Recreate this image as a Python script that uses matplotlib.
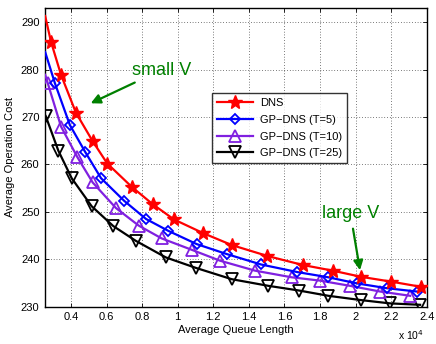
import matplotlib
matplotlib.use("Agg")
import matplotlib.pyplot as plt

plt.rcParams['font.family'] = ['Liberation Sans', 'DejaVu Sans']

# Average queue length (x 1e4) and average operation cost
dns_x = [0.255, 0.2875, 0.344, 0.428, 0.522, 0.604, 0.741, 0.86, 0.979, 1.144,
         1.304, 1.504, 1.703, 1.872, 2.031, 2.198, 2.367]
dns_y = [291.3, 285.9, 278.9, 270.9, 264.9, 260.2, 255.3, 251.6, 248.4, 245.5,
         243.0, 240.7, 238.8, 237.6, 236.3, 235.3, 234.2]

t5_x = [0.255, 0.31, 0.394, 0.479, 0.569, 0.70, 0.822, 0.947, 1.107, 1.276,
        1.469, 1.673, 1.847, 2.01, 2.176, 2.344]
t5_y = [283.7, 277.1, 268.3, 262.7, 257.1, 252.3, 248.5, 246.0, 243.2, 241.1,
        238.9, 237.3, 236.2, 234.9, 233.9, 233.2]

t10_x = [0.255, 0.269, 0.344, 0.435, 0.522, 0.653, 0.781, 0.91, 1.079, 1.238,
         1.435, 1.641, 1.80, 1.969, 2.138, 2.307]
t10_y = [278.9, 277.2, 268.0, 261.6, 256.2, 250.8, 247.1, 244.4, 242.0, 239.7,
         237.6, 236.2, 235.5, 234.4, 233.2, 232.3]

t25_x = [0.258, 0.329, 0.404, 0.516, 0.638, 0.764, 0.933, 1.101, 1.304, 1.51,
         1.684, 1.847, 2.029, 2.194, 2.363]
t25_y = [270.2, 262.9, 257.1, 251.2, 247.0, 243.9, 240.4, 238.2, 235.8, 234.4,
         233.4, 232.3, 231.4, 230.7, 230.4]

labels = ['DNS', 'GP\u2212DNS (T=5)', 'GP\u2212DNS (T=10)', 'GP\u2212DNS (T=25)']
xticks = [0.4, 0.6, 0.8, 1.0, 1.2, 1.4, 1.6, 1.8, 2.0, 2.2, 2.4]
xticklabels = ['0.4', '0.6', '0.8', '1', '1.2', '1.4', '1.6', '1.8', '2', '2.2', '2.4']
yticks = [230, 240, 250, 260, 270, 280, 290]

fig = plt.figure(figsize=(4.36, 3.44), dpi=100)
ax = fig.add_axes([45/436, 1-306.7/344, 381.7/436, 299.2/344])

purple = '#8020e0'
ax.plot(dns_x, dns_y, color='red', lw=1.6, marker='*', ms=10, mfc='red', mec='red',
        markevery=slice(1, None), label=labels[0], zorder=5)
ax.plot(t5_x, t5_y, color='blue', lw=1.6, marker='D', ms=5.5, mfc='none', mec='blue',
        mew=1.3, markevery=slice(1, None), label=labels[1], zorder=4)
ax.plot(t10_x, t10_y, color=purple, lw=1.6, marker='^', ms=8, mfc='none', mec=purple,
        mew=1.3, markevery=slice(1, None), label=labels[2], zorder=3)
ax.plot(t25_x, t25_y, color='black', lw=1.6, marker='v', ms=8, mfc='none', mec='black',
        mew=1.3, label=labels[3], zorder=2)

ax.set_xlim(0.254, 2.4)
ax.set_ylim(230, 293.1)
ax.set_xticks(xticks)
ax.set_xticklabels(xticklabels)
ax.set_yticks(yticks)
ax.tick_params(direction='in', top=True, right=True, labelsize=8, length=3, width=0.6, pad=4)
ax.grid(True, color='black', linestyle=(0, (1, 3)), lw=0.5)
for s in ax.spines.values():
    s.set_linewidth(1.0)

ax.set_xlabel('Average Queue Length', fontsize=8, labelpad=2)
ax.set_ylabel('Average Operation Cost', fontsize=8, labelpad=4)
fig.text(398/436, 1-335/344, 'x 10$^4$', fontsize=7.5, va='center', ha='left')

leg = ax.legend(loc='upper left', bbox_to_anchor=(0.437, 0.713), borderaxespad=0,
                fontsize=8, frameon=True, fancybox=False, edgecolor='black',
                handlelength=3.3, labelspacing=0.6, borderpad=0.45, handletextpad=0.6)
leg.get_frame().set_linewidth(1.0)

green = '#008000'
ax.annotate('small V', xy=(0.511, 272.9), xytext=(0.741, 279.9), fontsize=13, color=green,
            va='center', ha='left',
            arrowprops=dict(arrowstyle='-|>', color=green, lw=1.6, mutation_scale=14,
                            shrinkA=2, shrinkB=0))
ax.annotate('large V', xy=(2.025, 237.7), xytext=(1.81, 249.7), fontsize=13, color=green,
            va='center', ha='left',
            arrowprops=dict(arrowstyle='-|>', color=green, lw=1.6, mutation_scale=14,
                            shrinkA=3, shrinkB=0))

fig.savefig('out.png', dpi=100)
